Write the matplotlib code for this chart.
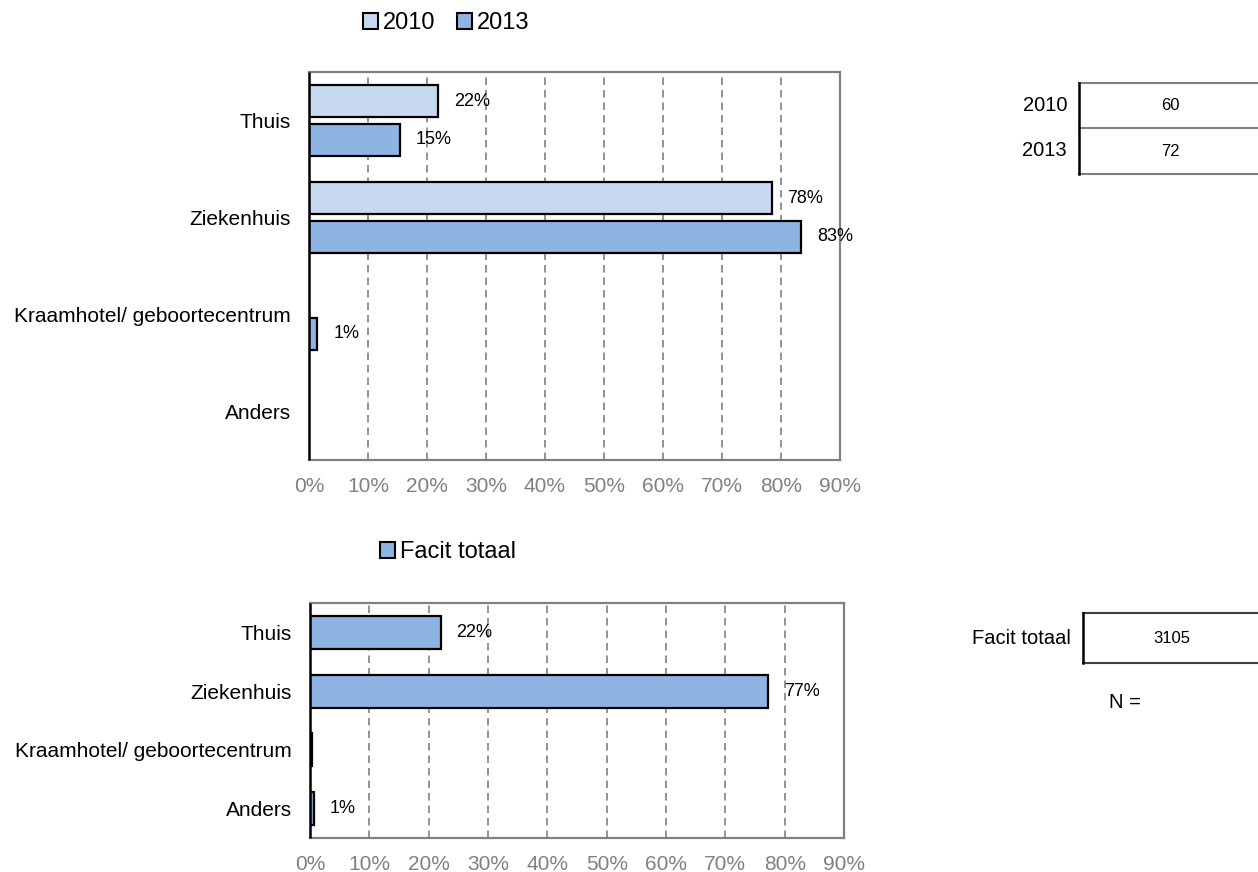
import matplotlib.pyplot as plt
from matplotlib.lines import Line2D
from matplotlib.patches import Patch

plt.rcParams['font.family'] = ['Liberation Sans', 'DejaVu Sans']

categories = ['Thuis', 'Ziekenhuis', 'Kraamhotel/ geboortecentrum', 'Anders']
pct_2010 = [21.9, 78.4, 0.0, 0.0]
pct_2013 = [15.4, 83.4, 1.4, 0.0]
pct_facit = [22.0, 77.2, 0.4, 0.6]

years = ['2010', '2013']
n_years = [60, 72]
facit_label = 'Facit totaal'
n_facit = 3105

c2010 = '#C6D9F1'
c2013 = '#8EB4E3'
grey = '#808080'

W, H = 1258, 872
fig = plt.figure(figsize=(W / 100, H / 100), dpi=100)


def px_axes(l, r, t, b):
    return fig.add_axes([l / W, 1 - b / H, (r - l) / W, (b - t) / H])


def style_axes(ax):
    ax.set_xlim(0, 90)
    ax.set_ylim(len(categories) - 0.5, -0.5)
    ax.set_xticks(range(0, 91, 10))
    ax.set_xticklabels([f'{t}%' for t in range(0, 91, 10)])
    ax.set_yticks(range(len(categories)))
    ax.set_yticklabels(categories)
    ax.tick_params(axis='x', length=0, pad=12, labelsize=15, labelcolor=grey)
    ax.tick_params(axis='y', length=0, pad=13, labelsize=15)
    for g in range(10, 90, 10):
        ax.axvline(g, color=grey, lw=1.2, ls=(0, (4.5, 3)), zorder=0)
    for s in ['top', 'right', 'bottom']:
        ax.spines[s].set_color(grey)
        ax.spines[s].set_linewidth(1.6)
    ax.spines['left'].set_color('black')
    ax.spines['left'].set_linewidth(1.8)
    ax.spines['left'].set_capstyle('butt')
    ax.spines['left'].set_zorder(5)


def label_bars(ax, bars, vals):
    for b, v in zip(bars, vals):
        if v < 0.5:
            continue
        ax.annotate(f'{v:.0f}%', (v, b.get_y() + b.get_height() / 2),
                    xytext=(11.5, 0), textcoords='offset points',
                    va='center', ha='left', fontsize=13)


# top chart: 2010 vs 2013
ax1 = px_axes(309, 840, 72, 460)
style_axes(ax1)
y = range(len(categories))
b1 = ax1.barh([i - 0.2 for i in y], pct_2010, height=0.335, color=c2010,
              edgecolor='black', lw=1.6, zorder=3)
b2 = ax1.barh([i + 0.2 for i in y], pct_2013, height=0.335, color=c2013,
              edgecolor='black', lw=1.6, zorder=3)
for b, v in zip(b1, pct_2010):
    b.set_visible(v > 0)
for b, v in zip(b2, pct_2013):
    b.set_visible(v > 0)
label_bars(ax1, b1, pct_2010)
label_bars(ax1, b2, pct_2013)

# bottom chart: total
ax2 = px_axes(310, 844, 603, 838)
style_axes(ax2)
b3 = ax2.barh(list(y), pct_facit, height=0.56, color=c2013,
              edgecolor='black', lw=1.6, zorder=3)
label_bars(ax2, b3, pct_facit)

# legends
leg_kw = dict(loc='center', frameon=False, fontsize=17, handlelength=0.65,
              handleheight=0.65, handletextpad=0.2, columnspacing=0.9)
h1 = [Patch(facecolor=c2010, edgecolor='black', lw=1.5),
      Patch(facecolor=c2013, edgecolor='black', lw=1.5)]
fig.legend(h1, years, ncols=2, bbox_to_anchor=(446 / W, 1 - 23 / H), **leg_kw)
h2 = [Patch(facecolor=c2013, edgecolor='black', lw=1.5)]
fig.legend(h2, [facit_label], bbox_to_anchor=(448 / W, 1 - 552 / H), **leg_kw)


# N tables on the right
def fline(x0, x1, y0, y1, color, lw):
    fig.add_artist(Line2D([x0 / W, x1 / W], [1 - y0 / H, 1 - y1 / H],
                          transform=fig.transFigure, color=color, lw=lw))


rows = [83, 128, 174]
for yy in rows:
    fline(1079, W + 10, yy, yy, grey, 1.5)
fline(1079, 1079, 83, 174, 'black', 1.8)
for i, (yr, n) in enumerate(zip(years, n_years)):
    yc = (rows[i] + rows[i + 1]) / 2
    fig.text(1067 / W, 1 - yc / H, yr, ha='right', va='center', fontsize=14.5)
    fig.text(1170 / W, 1 - yc / H, str(n), ha='center', va='center', fontsize=12)

fline(1083, W + 10, 613, 613, '#404040', 1.5)
fline(1083, W + 10, 663, 663, '#404040', 1.5)
fline(1083, 1083, 613, 663, 'black', 1.8)
fig.text(1071 / W, 1 - 638 / H, facit_label, ha='right', va='center', fontsize=14.5)
fig.text(1172 / W, 1 - 638 / H, str(n_facit), ha='center', va='center', fontsize=12)
fig.text(1125 / W, 1 - 702 / H, 'N =', ha='center', va='center', fontsize=14.5)

fig.savefig('out.png', dpi=100, facecolor='white')
